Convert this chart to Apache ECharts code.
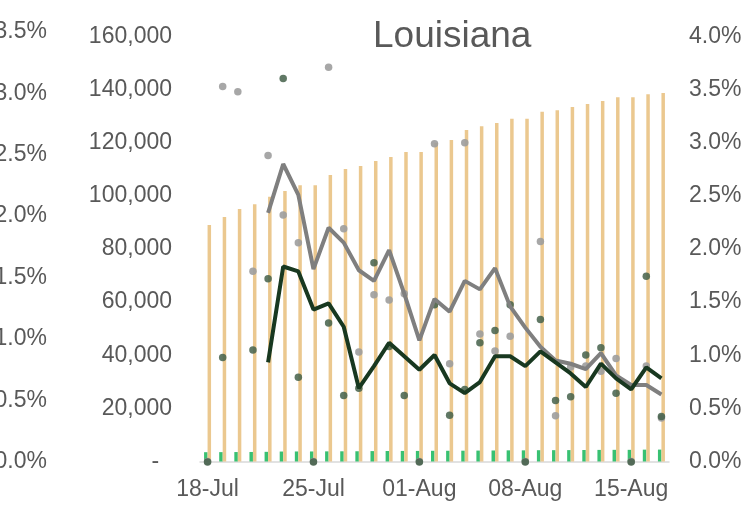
<!DOCTYPE html>
<html>
<head>
<meta charset="utf-8">
<script src="https://cdn.jsdelivr.net/npm/echarts@6/dist/echarts.min.js"></script>
<style>
  html, body { margin: 0; padding: 0; background: #fff; }
  .chart { width: 749px; height: 508px; }
</style>
</head>
<body>
<div class="chart"></div>
<script>
var dates = ['18-Jul', '19-Jul', '20-Jul', '21-Jul', '22-Jul', '23-Jul', '24-Jul', '25-Jul', '26-Jul', '27-Jul',
    '28-Jul', '29-Jul', '30-Jul', '31-Jul', '01-Aug', '02-Aug', '03-Aug', '04-Aug', '05-Aug', '06-Aug',
    '07-Aug', '08-Aug', '09-Aug', '10-Aug', '11-Aug', '12-Aug', '13-Aug', '14-Aug', '15-Aug', '16-Aug', '17-Aug'];

// cumulative totals (left inner axis)
var totalCases = [89040, 92050, 95060, 96830, 99700, 101840, 104000, 104000, 107870, 110130,
    111260, 113140, 114640, 116530, 116530, 119900, 121050, 124810, 126190, 127440,
    129070, 129070, 131700, 132220, 133470, 134600, 135730, 137110, 137110, 138250, 138740];
var totalDeaths = [3500, 3530, 3560, 3590, 3640, 3750, 3780, 3780, 3820, 3840,
    3860, 3920, 3960, 3980, 3980, 4030, 4040, 4070, 4110, 4150,
    4200, 4200, 4250, 4270, 4290, 4330, 4370, 4390, 4390, 4460, 4480];

// daily growth of cases, % (right axis)
var caseGrowth = [0, 3.53, 3.48, 1.79, 2.88, 2.32, 2.06, 0, 3.71, 2.19,
    1.03, 1.57, 1.52, 1.58, 0, 2.99, 0.92, 3.00, 1.20, 1.04,
    1.18, 0, 2.07, 0.43, 0.89, 0.90, 0.85, 0.97, 0, 0.90, 0.41];
var caseGrowthAvg = [null, null, null, null, 2.34, 2.80, 2.51, 1.81, 2.20, 2.06,
    1.80, 1.70, 1.99, 1.58, 1.14, 1.53, 1.41, 1.70, 1.62, 1.82,
    1.46, 1.26, 1.08, 0.95, 0.92, 0.87, 1.02, 0.81, 0.72, 0.72, 0.63];

// daily growth of deaths, % (left outer axis)
var deathGrowth = [0, 0.85, null, 0.91, 1.49, 3.12, 0.69, 0, 1.13, 0.54,
    0.60, 1.62, 0.94, 0.54, 0, 1.28, 0.38, 0.59, 0.97, 1.07,
    1.28, 0, 1.16, 0.50, 0.53, 0.87, 0.93, 0.56, 0, 1.51, 0.37];
var deathGrowthAvg = [null, null, null, null, 0.81, 1.59, 1.55, 1.24, 1.29, 1.10,
    0.60, 0.78, 0.97, 0.86, 0.75, 0.87, 0.64, 0.56, 0.65, 0.86,
    0.86, 0.78, 0.90, 0.81, 0.72, 0.61, 0.80, 0.68, 0.59, 0.77, 0.68];

(function () {
    var myChart = echarts.init(document.querySelector(".chart"), null, { renderer: 'canvas' });
    var font = "'Liberation Sans', Arial, sans-serif";
    var txt = '#595959';

    function pct(v) { return v.toFixed(1) + '%'; }

    var option = {
        animation: false,
        textStyle: { fontFamily: font },
        title: {
            text: 'Louisiana',
            left: 368,
            top: 13,
            textStyle: { fontFamily: font, fontSize: 37, fontWeight: 'normal', color: txt }
        },
        grid: [
            { left: 200, right: 80, top: 36.5, height: 425, outerBoundsMode: 'none', containLabel: false },
            { left: 200, right: 80, top: 31.7, height: 430.3, outerBoundsMode: 'none', containLabel: false }
        ],
        xAxis: [
            {
                type: 'category',
                gridIndex: 0,
                data: dates,
                boundaryGap: true,
                axisLine: { lineStyle: { color: '#d9d9d9', width: 1.5 } },
                axisTick: { interval: 6, length: 6, lineStyle: { color: '#d9d9d9', width: 1.5 } },
                axisLabel: { interval: 6, margin: 17, fontSize: 23, color: txt, fontFamily: font }
            },
            {
                type: 'category',
                gridIndex: 1,
                data: dates,
                boundaryGap: true,
                show: false
            }
        ],
        yAxis: [
            {
                type: 'value',
                gridIndex: 0,
                position: 'left',
                min: 0, max: 160000, interval: 20000,
                splitLine: { show: false },
                axisLine: { show: false },
                axisTick: { show: false },
                axisLabel: {
                    margin: 28, fontSize: 23, color: txt, fontFamily: font,
                    formatter: function (v) { return v === 0 ? '-  ' : v.toLocaleString('en-US'); }
                }
            },
            {
                type: 'value',
                gridIndex: 0,
                position: 'right',
                min: 0, max: 4, interval: 0.5,
                splitLine: { show: false },
                axisLine: { show: false },
                axisTick: { show: false },
                axisLabel: { margin: 20, fontSize: 23, color: txt, fontFamily: font, formatter: pct }
            },
            {
                type: 'value',
                gridIndex: 1,
                position: 'left',
                offset: 145,
                min: 0, max: 3.5, interval: 0.5,
                splitLine: { show: false },
                axisLine: { show: false },
                axisTick: { show: false },
                axisLabel: { margin: 8, fontSize: 23, color: txt, fontFamily: font, formatter: pct }
            }
        ],
        series: [
            {
                name: 'Deaths',
                type: 'bar',
                xAxisIndex: 0, yAxisIndex: 0,
                data: totalDeaths,
                barWidth: 3.5,
                barGap: '0%',
                itemStyle: { color: '#38c172' }
            },
            {
                name: 'Cases',
                type: 'bar',
                xAxisIndex: 0, yAxisIndex: 0,
                data: totalCases,
                barWidth: 3.5,
                itemStyle: { color: '#ebc88f' }
            },
            {
                name: 'Case growth',
                type: 'scatter',
                xAxisIndex: 0, yAxisIndex: 1,
                data: caseGrowth,
                symbolSize: 7.5,
                itemStyle: { color: '#9d9d9d', opacity: 0.9 }
            },
            {
                name: 'Death growth',
                type: 'scatter',
                xAxisIndex: 1, yAxisIndex: 2,
                data: deathGrowth,
                symbolSize: 7.5,
                itemStyle: { color: '#44604a', opacity: 0.85 }
            },
            {
                name: 'Case growth avg',
                type: 'line',
                xAxisIndex: 0, yAxisIndex: 1,
                data: caseGrowthAvg,
                showSymbol: false,
                lineStyle: { color: '#7f7f7f', width: 4 }
            },
            {
                name: 'Death growth avg',
                type: 'line',
                xAxisIndex: 1, yAxisIndex: 2,
                data: deathGrowthAvg,
                showSymbol: false,
                lineStyle: { color: '#183820', width: 4 }
            }
        ]
    };

    myChart.setOption(option);
    window.addEventListener("resize", function () {
        myChart.resize();
    });
})();
</script>
</body>
</html>
